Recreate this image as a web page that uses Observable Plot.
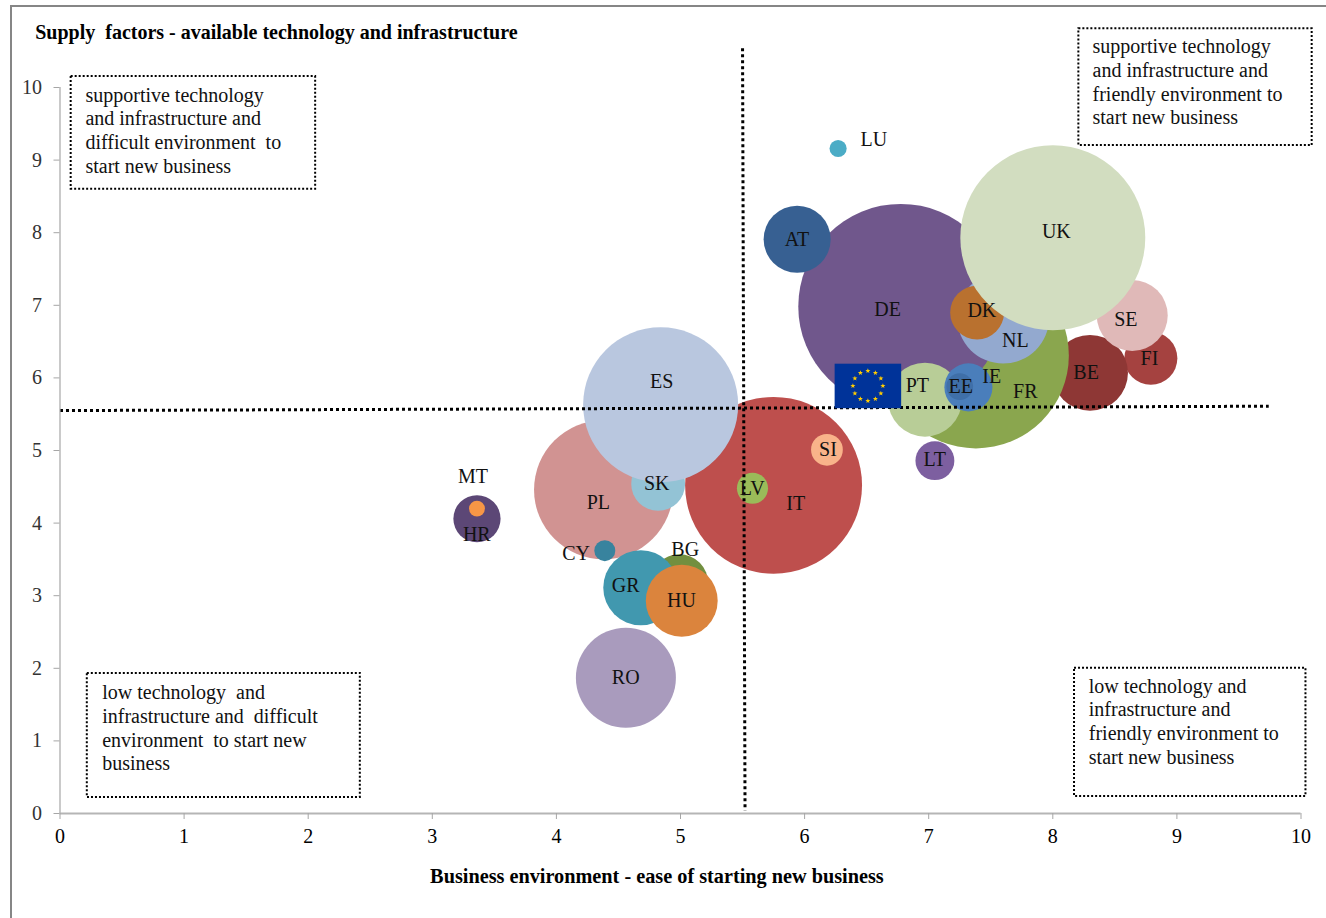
<!DOCTYPE html>
<html>
<head>
<meta charset="utf-8">
<script src="https://cdn.jsdelivr.net/npm/d3@7"></script>
<script src="https://cdn.jsdelivr.net/npm/@observablehq/plot@0.6"></script>
<style>
html,body{margin:0;padding:0;background:#fff;}
#wrap{position:relative;width:1326px;height:918px;overflow:hidden;}
#wrap svg{display:block;position:absolute;left:0;top:0;}
#frame{position:absolute;left:10px;top:5px;width:1330px;height:930px;border-left:2px solid #868686;border-top:2px solid #868686;box-sizing:border-box;pointer-events:none;}
</style>
</head>
<body>
<div id="wrap"><div id="frame"></div></div>
<script>
const codes  = ["RO","LU","FI","BE","FR","DE","AT","PT","NL","DK","IE","EE","SE","UK","PL","CY","IT","SK","ES","SI","LV","BG","GR","HU","LT","HR","MT"];
const business = [4.56,6.27,8.79,8.30,7.38,6.775,5.94,6.97,7.60,7.39,7.32,7.25,8.64,8.00,4.38,4.39,5.75,4.82,4.84,6.18,5.58,4.99,4.68,5.01,7.05,3.36,3.36];
const supply   = [1.87,9.16,6.27,6.07,6.31,6.985,7.91,5.70,6.83,6.90,5.87,5.88,6.86,7.93,4.46,3.62,4.52,4.54,5.63,5.01,4.48,3.17,3.11,2.93,4.86,4.06,4.20];
const sizes    = [23.8,0.7,6.7,13.7,82.3,100,10.7,13.0,20.1,6.9,5.5,1.7,12.0,81.4,46.0,1.05,74.5,6.9,57.2,2.4,2.3,8.0,13.4,12.3,3.6,5.3,0.6];
const colors   = ["#a99bbd","#4bacc6","#a54240","#8e3735","#8aa64e","#70578c","#376092","#b8cd97","#93a9cf","#b9712f","#4a7ebb","#3f6fa8","#e0b9b8","#d2ddc0","#d19392","#38839e","#be4f4d","#93c3d5","#b9c7df","#f9b38a","#9abb59","#728f3f","#4198af","#db843d","#7d5fa0","#5c4776","#f79646"];

const labelCodes = ["UK","DE","FR","NL","DK","SE","FI","BE","IE","EE","PT","LT","SI","IT","ES","PL","SK","LV","MT","HR","CY","BG","GR","HU","RO","AT","LU"];
const labelX = [8.03,6.67,7.78,7.70,7.43,8.59,8.78,8.27,7.51,7.26,6.91,7.05,6.19,5.93,4.85,4.34,4.81,5.58,3.33,3.36,4.16,5.04,4.56,5.01,4.56,5.94,6.56];
const labelY = [8.02,6.94,5.81,6.52,6.93,6.80,6.27,6.07,6.02,5.88,5.90,4.88,5.01,4.27,5.95,4.28,4.55,4.48,4.64,3.84,3.58,3.64,3.14,2.93,1.87,7.91,9.28];

const xTicks = [0,1,2,3,4,5,6,7,8,9,10];
const yTicks = [0,1,2,3,4,5,6,7,8,9,10];

const titleText = "Supply  factors - available technology and infrastructure";
const xLabelText = "Business environment - ease of starting new business";

const boxTexts = [
  "supportive technology\nand infrastructure and\ndifficult environment  to\nstart new business",
  "supportive technology\nand infrastructure and\nfriendly environment to\nstart new business",
  "low technology  and\ninfrastructure and  difficult\nenvironment  to start new\nbusiness",
  "low technology and\ninfrastructure and\nfriendly environment to\nstart new business"
];
const boxX1 = [0.09,8.21,0.22,8.175];
const boxX2 = [2.06,10.09,2.42,10.04];
const boxY1 = [8.60,9.20,0.22,0.234];
const boxY2 = [10.15,10.81,1.93,2.00];
const boxTextX = [0.205,8.32,0.34,8.29];
const boxTextY = [9.418,10.088,1.188,1.278];

const vDivX = [5.50,5.52];
const vDivY = [10.54,0.04];
const hDivX = [0,9.74];
const hDivY = [5.55,5.61];

const flagX = [6.51];
const flagY = [5.89];

const bubbles = codes.map((c,i)=>({c,x:business[i],y:supply[i],s:sizes[i],col:colors[i]}));
const labels = labelCodes.map((c,i)=>({c,x:labelX[i],y:labelY[i]}));
const boxes = boxTexts.map((t,i)=>({t,x1:boxX1[i],x2:boxX2[i],y1:boxY1[i],y2:boxY2[i],tx:boxTextX[i],ty:boxTextY[i]}));
const vDiv = vDivX.map((x,i)=>({x,y:vDivY[i]}));
const hDiv = hDivX.map((x,i)=>({x,y:hDivY[i]}));

function flagSvg(){
  let stars="";
  for(let i=0;i<12;i++){
    const a=i*Math.PI/6, cx=33.5+15*Math.sin(a), cy=22.5-15*Math.cos(a);
    let pts=[];
    for(let k=0;k<10;k++){
      const r=k%2?1.1:2.7, b=k*Math.PI/5;
      pts.push((cx+r*Math.sin(b)).toFixed(2)+","+(cy-r*Math.cos(b)).toFixed(2));
    }
    stars+=`<polygon points="${pts.join(" ")}" fill="#ffcc00"/>`;
  }
  const s=`<svg xmlns="http://www.w3.org/2000/svg" width="67" height="45" viewBox="0 0 67 45"><rect width="67" height="45" fill="#003399"/>${stars}</svg>`;
  return "data:image/svg+xml;base64,"+btoa(s);
}
const flag = flagX.map((x,i)=>({x,y:flagY[i],src:flagSvg()}));

const FONT = "'Liberation Serif','Times New Roman',serif";
const FS = 20;

const chart = Plot.plot({
  width:1326,height:918,
  marginLeft:59.5,marginRight:25.5,marginTop:87,marginBottom:105,
  style:{fontFamily:FONT,fontSize:FS+"px",background:"transparent",color:"#000",overflow:"visible"},
  x:{domain:[0,10]},
  y:{domain:[0,10]},
  r:{type:"sqrt",domain:[0,100],range:[0,102.5]},
  marks:[
    Plot.dot(bubbles,{x:"x",y:"y",r:"s",fill:"col",sort:null}),
    Plot.line(hDiv,{x:"x",y:"y",stroke:"#000",strokeWidth:3,strokeDasharray:"3,3",strokeLinecap:"butt"}),
    Plot.line(vDiv,{x:"x",y:"y",stroke:"#000",strokeWidth:3,strokeDasharray:"3,3",strokeLinecap:"butt"}),
    Plot.image(flag,{x:"x",y:"y",src:"src",width:67,height:45,preserveAspectRatio:"none"}),
    Plot.ruleX([0],{stroke:"#a6a6a6",strokeWidth:1.2}),
    Plot.ruleY([0],{stroke:"#b5b5b5",strokeWidth:2}),
    Plot.axisX({ticks:xTicks,anchor:"bottom",tickSize:6,tickPadding:9,label:null,color:"#000",stroke:"#a6a6a6",fontSize:FS,tickFormat:d=>String(d)}),
    Plot.axisY({ticks:yTicks,anchor:"left",tickSize:6,tickPadding:12,label:null,color:"#333",stroke:"#a6a6a6",fontSize:FS,tickFormat:d=>String(d)}),
    Plot.rect(boxes,{x1:"x1",x2:"x2",y1:"y1",y2:"y2",fill:"#fff",stroke:"#000",strokeWidth:2,strokeDasharray:"2,2"}),
    Plot.text(boxes,{x:"tx",y:"ty",text:"t",textAnchor:"start",lineAnchor:"middle",lineHeight:23.7/FS,fontSize:FS,fill:"#111"}),
    Plot.text(labels,{x:"x",y:"y",text:"c",fontSize:FS,fill:"#111",lineAnchor:"middle",dx:-0.2}),
    Plot.text([titleText],{x:-0.2,y:10.755,text:d=>d,textAnchor:"start",fontWeight:"bold",fontSize:FS,fill:"#000",lineAnchor:"middle"}),
    Plot.text([xLabelText],{x:4.81,y:-0.865,text:d=>d,fontWeight:"bold",fontSize:20.25,fill:"#000",lineAnchor:"middle"})
  ]
});
document.getElementById("wrap").appendChild(chart);
</script>
</body>
</html>
